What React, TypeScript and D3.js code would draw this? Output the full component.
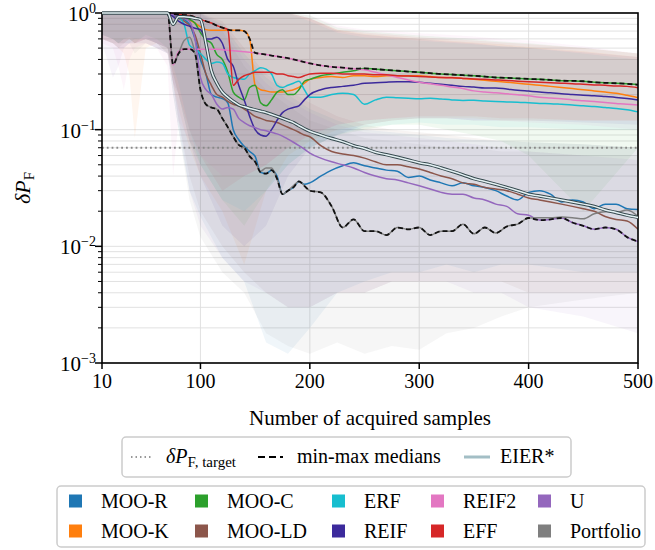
import React from "react";
import * as d3 from "d3";

// ---------- sample grid for medians ----------
const X = [10, 70, 75, 80, 85, 90, 95, 100, 105, 110, 115, 120, 125, 130, 135, 140, 145, 150, 155, 160, 165, 170, 175, 180, 185, 190, 195, 200, 210, 220, 230, 240, 250, 260, 270, 280, 290, 300, 310, 320, 330, 340, 350, 360, 370, 380, 390, 400, 410, 420, 430, 440, 450, 460, 470, 480, 490, 500];

const MOO_R = [1,
  1, 0.97, 0.93, 0.88, 0.8, 0.6, 0.4,
  0.3, 0.2, 0.19, 0.185, 0.17, 0.1, 0.082, 0.072, 0.065, 0.059,
  0.043, 0.042, 0.045, 0.04, 0.028, 0.03, 0.032, 0.036, 0.034, 0.035,
  0.04, 0.045, 0.049, 0.052, 0.049, 0.047, 0.045, 0.044, 0.039, 0.04,
  0.037, 0.035, 0.033, 0.035, 0.033, 0.032, 0.03, 0.027, 0.025, 0.029,
  0.03, 0.028, 0.024, 0.025, 0.024, 0.021, 0.023, 0.023, 0.021, 0.0207];
const MOO_K = [1,
  1, 0.97, 0.93, 0.9, 0.87, 0.82, 0.76,
  0.72, 0.71, 0.71, 0.71, 0.71, 0.71, 0.71, 0.7, 0.6, 0.24,
  0.22, 0.215, 0.21, 0.21, 0.21, 0.215, 0.22, 0.23, 0.25, 0.27,
  0.28, 0.285, 0.28, 0.29, 0.29, 0.285, 0.29, 0.29, 0.29, 0.29,
  0.285, 0.28, 0.28, 0.275, 0.27, 0.265, 0.26, 0.255, 0.25, 0.245,
  0.24, 0.235, 0.23, 0.225, 0.22, 0.215, 0.21, 0.205, 0.197, 0.188];
const MOO_C = [1,
  1, 0.97, 0.94, 0.92, 0.88, 0.82, 0.68,
  0.59, 0.55, 0.44, 0.4, 0.31, 0.21, 0.19, 0.18, 0.23, 0.24,
  0.17, 0.16, 0.18, 0.21, 0.22, 0.2, 0.2, 0.22, 0.26, 0.27,
  0.29, 0.3, 0.31, 0.32, 0.335, 0.33, 0.325, 0.32, 0.315, 0.31,
  0.305, 0.3, 0.297, 0.293, 0.29, 0.285, 0.28, 0.278, 0.275, 0.272,
  0.27, 0.267, 0.263, 0.262, 0.26, 0.255, 0.252, 0.25, 0.247, 0.243];
const MOO_LD = [1,
  1, 0.96, 0.9, 0.85, 0.78, 0.65, 0.45,
  0.3, 0.24, 0.2, 0.19, 0.175, 0.165, 0.16, 0.15, 0.14, 0.13,
  0.125, 0.12, 0.118, 0.115, 0.11, 0.105, 0.1, 0.095, 0.09, 0.087,
  0.073, 0.065, 0.062, 0.06, 0.057, 0.053, 0.05, 0.05, 0.048, 0.046,
  0.043, 0.04, 0.038, 0.035, 0.034, 0.032, 0.031, 0.03, 0.028, 0.026,
  0.025, 0.024, 0.023, 0.022, 0.021, 0.02, 0.018, 0.017, 0.0165, 0.014];
const ERF = [1,
  1, 0.97, 0.92, 0.8, 0.53, 0.49, 0.45,
  0.4, 0.37, 0.38, 0.37, 0.3, 0.28, 0.275, 0.27, 0.3, 0.32,
  0.34, 0.33, 0.3, 0.24, 0.23, 0.24, 0.25, 0.26, 0.22, 0.19,
  0.19, 0.2, 0.205, 0.2, 0.165, 0.18, 0.19, 0.188, 0.186, 0.184,
  0.186, 0.183, 0.18, 0.178, 0.179, 0.176, 0.174, 0.173, 0.172, 0.17,
  0.168, 0.167, 0.165, 0.163, 0.16, 0.158, 0.155, 0.152, 0.148, 0.142];
const REIF = [1,
  1, 0.93, 0.85, 0.8, 0.77, 0.74, 0.72,
  0.6, 0.6, 0.62, 0.55, 0.4, 0.35, 0.24, 0.18, 0.13, 0.1,
  0.09, 0.088, 0.1, 0.12, 0.14, 0.15, 0.155, 0.16, 0.18, 0.2,
  0.22, 0.23, 0.235, 0.24, 0.25, 0.252, 0.255, 0.257, 0.257, 0.255,
  0.25, 0.245, 0.24, 0.235, 0.232, 0.228, 0.228, 0.223, 0.218, 0.214,
  0.21, 0.207, 0.203, 0.2, 0.197, 0.195, 0.192, 0.189, 0.185, 0.18];
const REIF2 = [1,
  1, 0.36, 0.47, 0.49, 0.49, 0.49, 0.49,
  0.49, 0.49, 0.488, 0.485, 0.48, 0.475, 0.47, 0.465, 0.46, 0.455,
  0.447, 0.44, 0.432, 0.425, 0.417, 0.41, 0.4, 0.39, 0.38, 0.37,
  0.355, 0.345, 0.34, 0.333, 0.326, 0.31, 0.295, 0.28, 0.267, 0.255,
  0.247, 0.24, 0.232, 0.225, 0.215, 0.21, 0.207, 0.203, 0.199, 0.195,
  0.19, 0.187, 0.184, 0.18, 0.177, 0.174, 0.171, 0.168, 0.165, 0.163];
const EFF = [1,
  1, 0.98, 0.97, 0.96, 0.95, 0.92, 0.88,
  0.85, 0.82, 0.78, 0.75, 0.72, 0.24, 0.27, 0.29, 0.3, 0.31,
  0.31, 0.31, 0.31, 0.3, 0.3, 0.29, 0.285, 0.28, 0.29, 0.3,
  0.305, 0.305, 0.3, 0.3, 0.3, 0.295, 0.295, 0.29, 0.288, 0.285,
  0.283, 0.28, 0.278, 0.275, 0.272, 0.27, 0.267, 0.264, 0.26, 0.257,
  0.255, 0.252, 0.25, 0.248, 0.245, 0.242, 0.24, 0.237, 0.235, 0.229];
const U = [1,
  1, 0.97, 0.93, 0.9, 0.85, 0.6, 0.28,
  0.22, 0.2, 0.165, 0.15, 0.155, 0.15, 0.125, 0.115, 0.108, 0.104,
  0.1, 0.098, 0.095, 0.092, 0.088, 0.083, 0.078, 0.073, 0.068, 0.063,
  0.057, 0.053, 0.05, 0.047, 0.043, 0.04, 0.038, 0.037, 0.035, 0.033,
  0.031, 0.029, 0.028, 0.028, 0.026, 0.025, 0.023, 0.022, 0.019, 0.0185,
  0.0168, 0.017, 0.0175, 0.016, 0.015, 0.014, 0.0145, 0.014, 0.012, 0.011];
const PORTFOLIO = [1,
  1, 0.37, 0.45, 0.58, 0.62, 0.45, 0.22,
  0.165, 0.155, 0.15, 0.125, 0.105, 0.087, 0.074, 0.07, 0.059, 0.053,
  0.044, 0.047, 0.047, 0.038, 0.028, 0.03, 0.033, 0.036, 0.033, 0.03,
  0.029, 0.022, 0.0145, 0.017, 0.0135, 0.0135, 0.0125, 0.0145, 0.014, 0.0145,
  0.0125, 0.0135, 0.0135, 0.0155, 0.0128, 0.0145, 0.013, 0.0148, 0.0155, 0.0175,
  0.0176, 0.0176, 0.0178, 0.0176, 0.0172, 0.019, 0.0198, 0.0195, 0.0205, 0.018];
const EIER = [1,
  1, 0.8, 0.93, 0.93, 0.92, 0.9, 0.88,
  0.55, 0.32, 0.25, 0.21, 0.19, 0.175, 0.163, 0.157, 0.152, 0.148,
  0.144, 0.14, 0.135, 0.13, 0.125, 0.12, 0.115, 0.108, 0.102, 0.097,
  0.09, 0.084, 0.079, 0.073, 0.069, 0.064, 0.061, 0.058, 0.055, 0.052,
  0.05, 0.047, 0.044, 0.041, 0.038, 0.036, 0.034, 0.032, 0.03, 0.028,
  0.027, 0.026, 0.025, 0.024, 0.023, 0.022, 0.0205, 0.0195, 0.0185, 0.0177];

// ---------- sample grid for min-max bands ----------
const BX = [10, 20, 25, 30, 35, 40, 50, 60, 70, 75, 80, 90, 100, 120, 140, 160, 180, 200, 225, 250, 275, 300, 325, 350, 375, 400, 450, 500];

const MOO_R_HI = [1, 1, 1, 1, 1, 1, 1, 1, 1, 1, 1, 1, 1, 0.8, 0.45, 0.28, 0.2, 0.15, 0.12, 0.1, 0.095, 0.09, 0.085, 0.082, 0.08, 0.078, 0.075, 0.07];
const MOO_R_LO = [0.65, 0.6, 0.55, 0.6, 0.62, 0.6, 0.62, 0.55, 0.45, 0.2, 0.1, 0.03, 0.018, 0.008, 0.005, 0.0015, 0.0012, 0.002, 0.004, 0.005, 0.006, 0.006, 0.007, 0.006, 0.007, 0.007, 0.006, 0.006];
const MOO_K_HI = [1, 1, 1, 1, 1, 1, 1, 1, 1, 1, 1, 1, 1, 1, 1, 1, 1, 0.9, 0.72, 0.66, 0.63, 0.6, 0.58, 0.56, 0.54, 0.51, 0.47, 0.42];
const MOO_K_LO = [0.6, 0.55, 0.5, 0.45, 0.3, 0.085, 0.5, 0.55, 0.45, 0.25, 0.15, 0.07, 0.04, 0.02, 0.007, 0.03, 0.06, 0.08, 0.1, 0.11, 0.12, 0.125, 0.125, 0.125, 0.12, 0.12, 0.12, 0.12];
const MOO_C_HI = [1, 1, 1, 1, 1, 1, 1, 1, 1, 1, 1, 1, 1, 1, 1, 1, 1, 0.95, 0.75, 0.7, 0.67, 0.64, 0.62, 0.6, 0.57, 0.55, 0.5, 0.45];
const MOO_C_LO = [0.65, 0.6, 0.55, 0.6, 0.6, 0.55, 0.65, 0.6, 0.5, 0.3, 0.2, 0.08, 0.05, 0.025, 0.015, 0.03, 0.05, 0.07, 0.09, 0.1, 0.11, 0.11, 0.1, 0.09, 0.08, 0.06, 0.02, 0.07];
const MOO_LD_HI = [1, 1, 1, 1, 1, 1, 1, 1, 1, 1, 1, 1, 1, 0.85, 0.5, 0.3, 0.22, 0.17, 0.13, 0.11, 0.1, 0.095, 0.09, 0.085, 0.08, 0.078, 0.075, 0.07];
const MOO_LD_LO = [0.6, 0.55, 0.55, 0.55, 0.6, 0.55, 0.6, 0.55, 0.5, 0.25, 0.12, 0.04, 0.02, 0.01, 0.006, 0.004, 0.003, 0.003, 0.004, 0.004, 0.005, 0.005, 0.005, 0.005, 0.005, 0.004, 0.004, 0.004];
const ERF_HI = [1, 1, 1, 1, 1, 1, 1, 1, 1, 1, 1, 1, 1, 1, 1, 1, 1, 0.85, 0.68, 0.62, 0.6, 0.58, 0.56, 0.54, 0.52, 0.5, 0.45, 0.4];
const ERF_LO = [0.65, 0.6, 0.55, 0.55, 0.55, 0.6, 0.6, 0.55, 0.5, 0.35, 0.25, 0.1, 0.05, 0.025, 0.02, 0.03, 0.05, 0.07, 0.09, 0.105, 0.11, 0.115, 0.11, 0.11, 0.105, 0.105, 0.1, 0.1];
const REIF_HI = [1, 1, 1, 1, 1, 1, 1, 1, 1, 1, 1, 1, 1, 1, 1, 1, 1, 0.9, 0.7, 0.65, 0.62, 0.6, 0.57, 0.55, 0.52, 0.5, 0.46, 0.42];
const REIF_LO = [0.6, 0.55, 0.5, 0.5, 0.55, 0.55, 0.55, 0.5, 0.45, 0.25, 0.2, 0.08, 0.04, 0.015, 0.01, 0.015, 0.04, 0.07, 0.09, 0.11, 0.12, 0.125, 0.125, 0.12, 0.12, 0.12, 0.115, 0.11];
const REIF2_HI = [1, 1, 1, 1, 1, 1, 1, 1, 1, 1, 1, 1, 1, 1, 1, 1, 1, 0.95, 0.78, 0.72, 0.7, 0.67, 0.65, 0.63, 0.6, 0.58, 0.52, 0.45];
const REIF2_LO = [0.55, 0.5, 0.35, 0.22, 0.4, 0.5, 0.55, 0.5, 0.35, 0.04, 0.12, 0.08, 0.06, 0.04, 0.04, 0.05, 0.07, 0.09, 0.11, 0.12, 0.125, 0.125, 0.125, 0.12, 0.12, 0.115, 0.11, 0.1];
const EFF_HI = [1, 1, 1, 1, 1, 1, 1, 1, 1, 1, 1, 1, 1, 1, 1, 1, 1, 0.9, 0.72, 0.68, 0.65, 0.62, 0.6, 0.58, 0.56, 0.54, 0.5, 0.45];
const EFF_LO = [0.65, 0.6, 0.55, 0.55, 0.6, 0.55, 0.6, 0.55, 0.5, 0.3, 0.2, 0.1, 0.06, 0.03, 0.04, 0.05, 0.07, 0.09, 0.11, 0.12, 0.125, 0.13, 0.13, 0.13, 0.125, 0.125, 0.12, 0.12];
const U_HI = [1, 1, 1, 1, 1, 1, 1, 1, 1, 1, 1, 1, 1, 0.75, 0.4, 0.25, 0.18, 0.14, 0.11, 0.095, 0.09, 0.085, 0.08, 0.075, 0.07, 0.065, 0.06, 0.055];
const U_LO = [0.55, 0.28, 0.35, 0.5, 0.55, 0.55, 0.6, 0.55, 0.5, 0.25, 0.12, 0.03, 0.015, 0.008, 0.005, 0.004, 0.003, 0.003, 0.004, 0.004, 0.005, 0.005, 0.005, 0.004, 0.004, 0.003, 0.0025, 0.0018];
const PORTFOLIO_HI = [1, 1, 1, 1, 1, 1, 1, 1, 1, 1, 1, 1, 1, 0.7, 0.35, 0.22, 0.16, 0.12, 0.1, 0.085, 0.08, 0.075, 0.07, 0.07, 0.065, 0.065, 0.06, 0.06];
const PORTFOLIO_LO = [0.6, 0.55, 0.5, 0.55, 0.55, 0.45, 0.55, 0.5, 0.45, 0.2, 0.1, 0.025, 0.012, 0.006, 0.004, 0.0018, 0.0014, 0.0012, 0.0015, 0.0012, 0.0014, 0.0013, 0.0018, 0.002, 0.0025, 0.003, 0.0035, 0.004];

const TARGET = 0.07;
const X_TICKS = [10, 100, 200, 300, 400, 500];
const Y_DECADES = [-3, -2, -1, 0];

const SERIES = [
  { name: "MOO-R", color: "#1f77b4", med: MOO_R, lo: MOO_R_LO, hi: MOO_R_HI },
  { name: "MOO-K", color: "#ff7f0e", med: MOO_K, lo: MOO_K_LO, hi: MOO_K_HI },
  { name: "MOO-C", color: "#2ca02c", med: MOO_C, lo: MOO_C_LO, hi: MOO_C_HI },
  { name: "MOO-LD", color: "#8c564b", med: MOO_LD, lo: MOO_LD_LO, hi: MOO_LD_HI },
  { name: "ERF", color: "#17becf", med: ERF, lo: ERF_LO, hi: ERF_HI },
  { name: "REIF", color: "#3c2a9c", med: REIF, lo: REIF_LO, hi: REIF_HI },
  { name: "REIF2", color: "#e377c2", med: REIF2, lo: REIF2_LO, hi: REIF2_HI },
  { name: "EFF", color: "#d62728", med: EFF, lo: EFF_LO, hi: EFF_HI },
  { name: "U", color: "#9467bd", med: U, lo: U_LO, hi: U_HI },
  { name: "Portfolio", color: "#7f7f7f", med: PORTFOLIO, lo: PORTFOLIO_LO, hi: PORTFOLIO_HI },
];

const FONT = '"Liberation Serif", "DejaVu Serif", "Times New Roman", Times, serif';
const L = 102, R = 638, T = 13, B = 363;

export default function App() {
  const x = d3.scaleLinear().domain([10, 500]).range([L, R]);
  const y = d3.scaleLog().domain([1e-3, 1]).range([B, T]);

  const line = d3.line<number>().x((_, i) => x(X[i])).y((v) => y(v)).curve(d3.curveMonotoneX);
  const band = (lo: number[], hi: number[]) =>
    d3.area<number>().x((i) => x(BX[i])).y0((i) => y(lo[i])).y1((i) => y(hi[i])).curve(d3.curveLinear)(d3.range(BX.length)) || "";

  const maxMed = X.map((_, i) => d3.max(SERIES, (s) => s.med[i]) as number);
  const minMed = X.map((_, i) => d3.min(SERIES, (s) => s.med[i]) as number);

  const minorVals: number[] = [];
  for (const k of [-3, -2, -1]) for (let m = 2; m <= 9; m++) minorVals.push(m * Math.pow(10, k));

  const legend2Cols = [69, 195, 332, 431, 538];
  const legend2Rows = [501, 531];
  const order = [
    ["MOO-R", "MOO-K"], ["MOO-C", "MOO-LD"], ["ERF", "REIF"], ["REIF2", "EFF"], ["U", "Portfolio"],
  ];
  const colorOf = (n: string) => SERIES.find((s) => s.name === n)!.color;
  const txt = { fontFamily: FONT };

  return (
    <svg width={655} height={550} style={{ position: "absolute", left: 0, top: 0, background: "white", fontFamily: FONT }}>
      <defs>
        <clipPath id="plotclip">
          <rect x={L} y={T - 2} width={R - L} height={B - T + 2} />
        </clipPath>
      </defs>
      {/* grid */}
      <g stroke="#dedede" strokeWidth={0.9}>
        {X_TICKS.map((t) => <line key={"gx" + t} x1={x(t)} x2={x(t)} y1={T} y2={B} />)}
        {Y_DECADES.map((k) => <line key={"gy" + k} x1={L} x2={R} y1={y(Math.pow(10, k))} y2={y(Math.pow(10, k))} />)}
        {minorVals.map((v) => <line key={"gm" + v} x1={L} x2={R} y1={y(v)} y2={y(v)} />)}
      </g>
      <g clipPath="url(#plotclip)">
        {SERIES.map((s) => (
          <path key={"b" + s.name} d={band(s.lo, s.hi)} fill={s.color} fillOpacity={0.066} stroke="none" />
        ))}
        <line x1={L} x2={R} y1={y(TARGET)} y2={y(TARGET)} stroke="#8a8a8a" strokeWidth={1.8} strokeDasharray="1.8,3" />
        {SERIES.map((s) => (
          <path key={"l" + s.name} d={line(s.med) || ""} fill="none" stroke={s.color} strokeWidth={1.5} />
        ))}
        <path d={line(maxMed) || ""} fill="none" stroke="#111" strokeWidth={1.8} strokeDasharray="5,3" />
        <path d={line(minMed) || ""} fill="none" stroke="#111" strokeWidth={1.8} strokeDasharray="5,3" />
      </g>
      {/* frame */}
      <rect x={L} y={T} width={R - L} height={B - T} fill="none" stroke="#000" strokeWidth={1.6} />
      <g clipPath="url(#plotclip)">
        <path d={line(EIER) || ""} fill="none" stroke="#34484d" strokeWidth={3.4} />
        <path d={line(EIER) || ""} fill="none" stroke="#e4f1f3" strokeWidth={1.5} />
      </g>
      {/* x ticks */}
      <g>
        {X_TICKS.map((t) => (
          <g key={"xt" + t}>
            <line x1={x(t)} x2={x(t)} y1={B} y2={B + 6} stroke="#000" strokeWidth={1.5} />
            <text x={x(t)} y={388} fontSize={20} textAnchor="middle" fill="#000" style={txt}>{t}</text>
          </g>
        ))}
      </g>
      {/* y ticks */}
      <g>
        {minorVals.map((v) => (
          <line key={"ym" + v} x1={L - 4} x2={L} y1={y(v)} y2={y(v)} stroke="#000" strokeWidth={1} />
        ))}
        {Y_DECADES.map((k) => (
          <g key={"yt" + k}>
            <line x1={L - 7} x2={L} y1={y(Math.pow(10, k))} y2={y(Math.pow(10, k))} stroke="#000" strokeWidth={1.5} />
            <text x={L - 6} y={y(Math.pow(10, k)) + 8} fontSize={21} textAnchor="end" fill="#000" style={txt}>
              10<tspan dy={-8} fontSize={14}>{k < 0 ? "\u2212" + Math.abs(k) : String(k)}</tspan>
            </text>
          </g>
        ))}
      </g>
      {/* axis labels */}
      <text x={(L + R) / 2} y={425} fontSize={21} textAnchor="middle" fill="#000" style={txt}>Number of acquired samples</text>
      <text transform={`translate(30,${(T + B) / 2}) rotate(-90)`} fontSize={22} textAnchor="middle" fill="#000" style={txt}>
        <tspan fontStyle="italic">δP</tspan>
        <tspan dy={4} fontSize={15}>F</tspan>
      </text>
      {/* legend 1 */}
      <rect x={122} y={437} width={449} height={40} rx={4} fill="white" fillOpacity={0.85} stroke="#cccccc" strokeWidth={1.5} />
      <line x1={131} x2={152} y1={457} y2={457} stroke="#777" strokeWidth={1.5} strokeDasharray="1.5,3" />
      <text x={166} y={463} fontSize={20} fill="#000" style={txt}>
        <tspan fontStyle="italic">δP</tspan>
        <tspan dy={4} fontSize={15}>F, target</tspan>
      </text>
      <line x1={258} x2={283} y1={457} y2={457} stroke="#000" strokeWidth={2} strokeDasharray="7,4" />
      <text x={297} y={463} fontSize={20} fill="#000" style={txt}>min-max medians</text>
      <line x1={464} x2={490} y1={457} y2={457} stroke="#a3bec5" strokeWidth={3} />
      <text x={500} y={463} fontSize={20} fill="#000" style={txt}>EIER*</text>
      {/* legend 2 */}
      <rect x={57} y={486} width={588} height={61} rx={4} fill="white" fillOpacity={0.85} stroke="#cccccc" strokeWidth={1.5} />
      {order.map((col, ci) =>
        col.map((name, ri) => (
          <g key={"lg" + name}>
            <rect x={legend2Cols[ci]} y={legend2Rows[ri] - 6.5} width={13} height={13} fill={colorOf(name)} />
            <text x={legend2Cols[ci] + 32} y={legend2Rows[ri] + 7} fontSize={20} fill="#000" style={txt}>{name}</text>
          </g>
        ))
      )}
    </svg>
  );
}
